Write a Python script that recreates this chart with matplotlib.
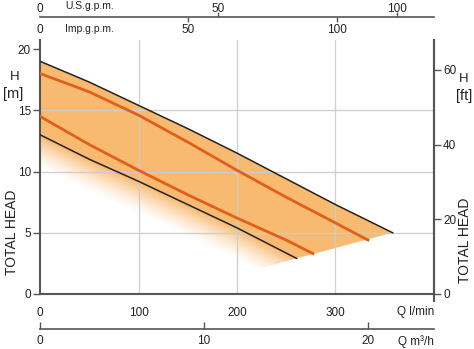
import numpy as np
import matplotlib
matplotlib.use("Agg")
import matplotlib.pyplot as plt

plt.rcParams['font.family'] = ['Liberation Sans Narrow', 'Liberation Sans', 'DejaVu Sans']

# ---------------- data ----------------
# flow Q [l/min] and head H [m]
top_black_q = [0, 50, 100, 150, 200, 250, 300, 358]
top_black_h = [19.0, 17.3, 15.4, 13.5, 11.5, 9.4, 7.3, 5.0]

top_orange_q = [0, 50, 100, 150, 200, 250, 300, 333]
top_orange_h = [18.0, 16.5, 14.6, 12.4, 10.1, 7.9, 5.8, 4.4]

low_orange_q = [0, 50, 100, 150, 200, 250, 277]
low_orange_h = [14.5, 12.2, 10.1, 8.1, 6.2, 4.4, 3.3]

low_black_q = [0, 50, 100, 150, 200, 260.6]
low_black_h = [13.0, 11.0, 9.2, 7.3, 5.4, 2.9]

x_ticks = [0, 100, 200, 300]
y_ticks_m = [0, 5, 10, 15, 20]
y_ticks_ft = [0, 20, 40, 60]
grid_x = [100, 200, 300]
grid_y = [5, 10, 15]
us_ticks = [0, 50, 100]
imp_ticks = [0, 50, 100]
m3_ticks = [0, 10, 20]

# ---------------- layout ----------------
W, H = 474, 349
fig = plt.figure(figsize=(W / 100, H / 100), dpi=100)


def fx(px):
    return px / W


def fy(py):
    return 1 - py / H


L, R, T, B = 40, 434, 40, 294
Y20 = 49  # pixel row of the 20 m tick
ymax = 20 * (B - T) / (B - Y20)

SPINE = '#555555'
GRID = '#cccccc'
FILL = (0.976, 0.733, 0.447)
ORANGE = '#e0601a'
TC = '#222222'

ax = fig.add_axes([fx(L), fy(B), (R - L) / W, (B - T) / H])
ax.set_xlim(0, 400)
ax.set_ylim(0, ymax)

# ---- filled band with fade below lowest curve ----
nq, nh = 1600, 900
qq = np.linspace(0, 400, nq)
hh = np.linspace(0, ymax, nh)
Q, Hg = np.meshgrid(qq, hh)
top = np.interp(Q, top_black_q, top_black_h, right=-100)
lb = np.interp(Q, low_black_q, low_black_h)
q1, h1 = top_black_q[-1], top_black_h[-1]
q2, h2 = low_black_q[-1], low_black_h[-1]
slope = (h1 - h2) / (q1 - q2)
edge = h1 + (Q - q1) * slope
inside = (Hg <= top) & (Hg >= edge)
d = lb - Hg
fade = 2.7
alpha = np.where(d <= 0, 1.0, np.clip(1 - d / fade, 0, 1) ** 1.4)
alpha = np.where(inside, alpha, 0.0)
img = np.zeros((nh, nq, 4))
img[..., 0], img[..., 1], img[..., 2] = FILL
img[..., 3] = alpha
ax.imshow(img, extent=[0, 400, 0, ymax], origin='lower', aspect='auto',
          interpolation='bilinear', zorder=1)

for gx in grid_x:
    ax.axvline(gx, color=GRID, lw=1, zorder=2, alpha=0.9)
for gy in grid_y:
    ax.axhline(gy, color=GRID, lw=1, zorder=2, alpha=0.9)

ax.plot(top_black_q, top_black_h, color='#222222', lw=1.1, zorder=4)
ax.plot(low_black_q, low_black_h, color='#222222', lw=1.1, zorder=4)
ax.plot(top_orange_q, top_orange_h, color=ORANGE, lw=2.0, zorder=4)
ax.plot(low_orange_q, low_orange_h, color=ORANGE, lw=2.0, zorder=4)

for s in ['left', 'right', 'bottom']:
    ax.spines[s].set_color(SPINE)
    ax.spines[s].set_linewidth(1.5)
ax.spines['top'].set_visible(False)

ax.set_yticks(y_ticks_m)
ax.set_yticklabels([str(v) for v in y_ticks_m])
ax.tick_params(axis='y', direction='out', length=5, width=1, color=SPINE,
               labelsize=8.5, pad=1.5, labelcolor=TC)
ax.set_xticks(x_ticks)
ax.set_xticklabels([str(v) for v in x_ticks])
ax.tick_params(axis='x', which='major', length=0, pad=9, labelsize=8.5,
               labelcolor=TC)
ax.set_xticks([0, 400], minor=True)
ax.tick_params(axis='x', which='minor', direction='out', length=6,
               width=1.5, color=SPINE)

ax2 = ax.twinx()
ax2.set_ylim(0, ymax * 3.28084)
ax2.set_yticks(y_ticks_ft)
ax2.set_yticklabels([str(v) for v in y_ticks_ft])
ax2.tick_params(axis='y', direction='out', length=5, width=1, color=SPINE,
                labelsize=8.5, pad=1.5, labelcolor=TC)
for s in ['left', 'top', 'bottom']:
    ax2.spines[s].set_visible(False)
ax2.spines['right'].set_color(SPINE)
ax2.spines['right'].set_linewidth(1.5)

# ---- top gpm scales ----
us_max = 110.46
imp_max = 132.8
ax_us = fig.add_axes([fx(L), fy(17), (R - L) / W, 0.0001])
ax_us.patch.set_visible(False)
for s in ['left', 'right', 'bottom']:
    ax_us.spines[s].set_visible(False)
ax_us.spines['top'].set_color(SPINE)
ax_us.spines['top'].set_linewidth(1.2)
ax_us.set_xlim(0, us_max)
ax_us.set_yticks([])
ax_us.xaxis.tick_top()
ax_us.set_xticks(us_ticks)
ax_us.set_xticklabels([str(v) for v in us_ticks])
ax_us.tick_params(axis='x', direction='out', length=3.5, width=1, color=SPINE,
                  pad=-2.0, labelsize=8.5, labelcolor=TC)
ax_us.xaxis.get_major_ticks()[0].tick2line.set_visible(False)

ax_imp = fig.add_axes([fx(L), fy(17), (R - L) / W, 0.0001])
ax_imp.patch.set_visible(False)
for s in ax_imp.spines.values():
    s.set_visible(False)
ax_imp.set_xlim(0, imp_max)
ax_imp.set_yticks([])
ax_imp.set_xticks(imp_ticks)
ax_imp.set_xticklabels([str(v) for v in imp_ticks])
ax_imp.tick_params(axis='x', direction='out', length=3.5, width=1, color=SPINE,
                   pad=1.5, labelsize=8.5, labelcolor=TC)
ax_imp.xaxis.get_major_ticks()[0].tick1line.set_visible(False)

# ---- bottom m3/h scale ----
ax_m3 = fig.add_axes([fx(L), fy(329), (R - L) / W, 0.0001])
ax_m3.patch.set_visible(False)
for s in ['left', 'right', 'top']:
    ax_m3.spines[s].set_visible(False)
ax_m3.spines['bottom'].set_color(SPINE)
ax_m3.spines['bottom'].set_linewidth(1.2)
ax_m3.set_xlim(0, 24)
ax_m3.set_yticks([])
ax_m3.set_xticks(m3_ticks)
ax_m3.set_xticklabels([str(v) for v in m3_ticks])
ax_m3.tick_params(axis='x', direction='in', length=5, width=1, color=SPINE,
                  pad=4, labelsize=8.5, labelcolor=TC)

# ---- texts ----
fig.text(fx(434), fy(312), 'Q l/min', ha='right', va='center', fontsize=8.5, color=TC)
fig.text(fx(434), fy(342), 'Q m³/h', ha='right', va='center', fontsize=8.5, color=TC)
fig.text(fx(65), fy(6), 'U.S.g.p.m.', ha='left', va='center', fontsize=7.5, color=TC)
fig.text(fx(65), fy(29), 'Imp.g.p.m.', ha='left', va='center', fontsize=7.5, color=TC)
fig.text(fx(15), fy(77), 'H', ha='center', va='center', fontsize=9.5, color=TC)
fig.text(fx(13), fy(94), '[m]', ha='center', va='center', fontsize=10.5, color=TC)
fig.text(fx(12), fy(232), 'TOTAL HEAD', ha='center', va='center', fontsize=10,
         rotation=90, color=TC)
fig.text(fx(464), fy(79), 'H', ha='center', va='center', fontsize=9.5, color=TC)
fig.text(fx(464), fy(96), '[ft]', ha='center', va='center', fontsize=10.5, color=TC)
fig.text(fx(465), fy(240), 'TOTAL HEAD', ha='center', va='center', fontsize=10,
         rotation=90, color=TC)

fig.savefig('out.png', dpi=100)
